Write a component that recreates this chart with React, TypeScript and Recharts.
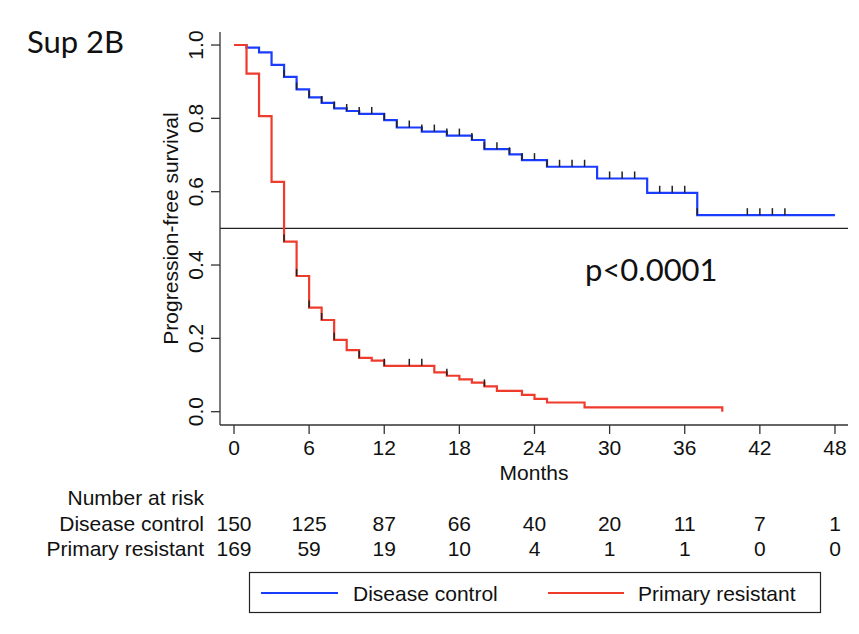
import React from "react";
import {
  ComposedChart,
  Line,
  Scatter,
  XAxis,
  YAxis,
  ReferenceLine,
} from "recharts";

// ---- data ----
const blueTimes = [0, 1, 2, 3, 4, 5, 6, 7, 8, 9, 10, 12, 13, 15, 17, 19, 20, 22, 23, 25, 29, 33, 37, 48];
const blueSurv = [1, 0.993, 0.98, 0.946, 0.913, 0.879, 0.857, 0.842, 0.827, 0.82, 0.812, 0.795, 0.775, 0.764, 0.753, 0.741, 0.716, 0.702, 0.686, 0.668, 0.636, 0.597, 0.536, 0.536];
const blueCensor = [4, 5, 6, 7, 8, 9, 10, 11, 12, 13, 14, 15, 16, 17, 18, 19, 20, 21, 22, 23, 24, 25, 26, 27, 28, 30, 31, 32, 34, 35, 36, 37, 41, 42, 43, 44];

const redTimes = [0, 1, 2, 3, 4, 5, 6, 7, 8, 9, 10, 11, 12, 16, 17, 18, 19, 20, 21, 23, 24, 25, 28, 39];
const redSurv = [1, 0.922, 0.806, 0.627, 0.464, 0.37, 0.284, 0.25, 0.196, 0.168, 0.147, 0.139, 0.125, 0.107, 0.098, 0.088, 0.079, 0.069, 0.057, 0.046, 0.035, 0.025, 0.012, 0];
const redCensor = [4, 5, 6, 7, 8, 10, 12, 14, 15, 17, 20];

const xTicks = [0, 6, 12, 18, 24, 30, 36, 42, 48];
const yTicks = [0, 0.2, 0.4, 0.6, 0.8, 1.0];

const riskTimes = [0, 6, 12, 18, 24, 30, 36, 42, 48];
const dcRisk = [150, 125, 87, 66, 40, 20, 11, 7, 1];
const prRisk = [169, 59, 19, 10, 4, 1, 1, 0, 0];

const seriesNames = ["Disease control", "Primary resistant"];
const BLUE = "#1a3cff";
const RED = "#ef3b2c";
const seriesColors = [BLUE, RED];

// ---- layout ----
const W = 859;
const H = 634;
const PLOT_LEFT = 220;
const PLOT_RIGHT = 848;
const PLOT_TOP = 32;
const PLOT_BOTTOM = 425;
const X_DOMAIN: [number, number] = [-1.118, 49.04];
const Y_DOMAIN: [number, number] = [-0.0363, 1.0355];
const FONT = "'Liberation Sans', Arial, Helvetica, sans-serif";
const FONT2 = "Lato, 'Open Sans', sans-serif";
const AXIS = "#333";

const toPts = (t: number[], s: number[]) => t.map((v, i) => ({ t: v, s: s[i] }));
const survAt = (t: number[], s: number[], x: number) => {
  let v = s[0];
  for (let i = 0; i < t.length; i++) if (t[i] <= x) v = s[i];
  return v;
};
const censorPts = (c: number[], t: number[], s: number[]) => c.map((x) => ({ t: x, s: survAt(t, s, x) }));

const blueData = toPts(blueTimes, blueSurv);
const redData = toPts(redTimes, redSurv);
const blueCens = censorPts(blueCensor, blueTimes, blueSurv);
const redCens = censorPts(redCensor, redTimes, redSurv);

const xPx = (t: number) =>
  PLOT_LEFT + ((t - X_DOMAIN[0]) / (X_DOMAIN[1] - X_DOMAIN[0])) * (PLOT_RIGHT - PLOT_LEFT);

const CensorMark = (props: any) => {
  const { cx, cy } = props;
  if (cx == null || cy == null) return null;
  return <line x1={cx} x2={cx} y1={cy} y2={cy - 7} stroke="#222" strokeWidth={1.5} />;
};

const XTick = (props: any) => {
  const { x, y, payload } = props;
  return (
    <text x={x} y={y + 17} textAnchor="middle" fontSize={21} fontFamily={FONT} fill="#111">
      {payload.value}
    </text>
  );
};

const YTick = (props: any) => {
  const { x, y, payload } = props;
  const bx = x - 4;
  return (
    <text
      x={bx}
      y={y}
      textAnchor="middle"
      fontSize={21}
      fontFamily={FONT}
      fill="#111"
      transform={`rotate(-90, ${bx}, ${y})`}
    >
      {Number(payload.value).toFixed(1)}
    </text>
  );
};

export default function App() {
  return (
    <div style={{ position: "absolute", left: 0, top: 0, width: W, height: H, background: "#fff" }}>
      <ComposedChart
        width={W}
        height={H}
        margin={{ top: PLOT_TOP, right: W - PLOT_RIGHT, bottom: 0, left: 0 }}
      >
        <XAxis
          type="number"
          dataKey="t"
          domain={X_DOMAIN}
          ticks={xTicks}
          allowDataOverflow
          height={H - PLOT_BOTTOM}
          tickSize={9}
          tickMargin={4}
          stroke={AXIS}
          strokeWidth={1.3}
          tick={<XTick />}
          interval={0}
        />
        <YAxis
          type="number"
          dataKey="s"
          domain={Y_DOMAIN}
          ticks={yTicks}
          allowDataOverflow
          width={PLOT_LEFT}
          tickSize={9}
          tickMargin={4}
          stroke={AXIS}
          strokeWidth={1.3}
          tick={<YTick />}
          interval={0}
        />
        <ReferenceLine y={0.5} stroke="#222" strokeWidth={1.2} />
        <Line
          data={blueData}
          dataKey="s"
          type="stepAfter"
          stroke={BLUE}
          strokeWidth={2.2}
          dot={false}
          isAnimationActive={false}
        />
        <Line
          data={redData}
          dataKey="s"
          type="stepAfter"
          stroke={RED}
          strokeWidth={2.2}
          dot={false}
          isAnimationActive={false}
        />
        <Scatter data={blueCens} dataKey="s" shape={<CensorMark />} isAnimationActive={false} />
        <Scatter data={redCens} dataKey="s" shape={<CensorMark />} isAnimationActive={false} />
      </ComposedChart>

      <svg
        width={W}
        height={H}
        style={{ position: "absolute", left: 0, top: 0, pointerEvents: "none" }}
      >
        <text x={27} y={52.5} fontSize={31} fontFamily={FONT2} fill="#111">
          Sup 2B
        </text>
        <text x={585} y={281} fontSize={31} fontFamily={FONT2} fill="#111">
          p&lt;0.0001
        </text>
        <text
          x={178}
          y={(PLOT_TOP + PLOT_BOTTOM) / 2}
          textAnchor="middle"
          fontSize={21}
          fontFamily={FONT}
          fill="#111"
          transform={`rotate(-90, 178, ${(PLOT_TOP + PLOT_BOTTOM) / 2})`}
        >
          Progression-free survival
        </text>
        <text
          x={(PLOT_LEFT + PLOT_RIGHT) / 2}
          y={479.5}
          textAnchor="middle"
          fontSize={21}
          fontFamily={FONT}
          fill="#111"
        >
          Months
        </text>

        {/* number at risk */}
        <text x={204} y={505} textAnchor="end" fontSize={21} fontFamily={FONT} fill="#111">
          Number at risk
        </text>
        <text x={204} y={531} textAnchor="end" fontSize={21} fontFamily={FONT} fill="#111">
          {seriesNames[0]}
        </text>
        <text x={204} y={556} textAnchor="end" fontSize={21} fontFamily={FONT} fill="#111">
          {seriesNames[1]}
        </text>
        {riskTimes.map((t, i) => (
          <text key={"dc" + i} x={xPx(t)} y={531} textAnchor="middle" fontSize={21} fontFamily={FONT} fill="#111">
            {dcRisk[i]}
          </text>
        ))}
        {riskTimes.map((t, i) => (
          <text key={"pr" + i} x={xPx(t)} y={556} textAnchor="middle" fontSize={21} fontFamily={FONT} fill="#111">
            {prRisk[i]}
          </text>
        ))}

        {/* legend */}
        <rect x={249.5} y={572.5} width={571} height={40} fill="none" stroke="#222" strokeWidth={1.2} />
        <line x1={261} x2={338} y1={593} y2={593} stroke={seriesColors[0]} strokeWidth={2} />
        <text x={353} y={600.5} fontSize={21} fontFamily={FONT} fill="#111">
          {seriesNames[0]}
        </text>
        <line x1={548} x2={624} y1={593} y2={593} stroke={seriesColors[1]} strokeWidth={2} />
        <text x={638} y={600.5} fontSize={21} fontFamily={FONT} fill="#111">
          {seriesNames[1]}
        </text>
      </svg>
    </div>
  );
}
